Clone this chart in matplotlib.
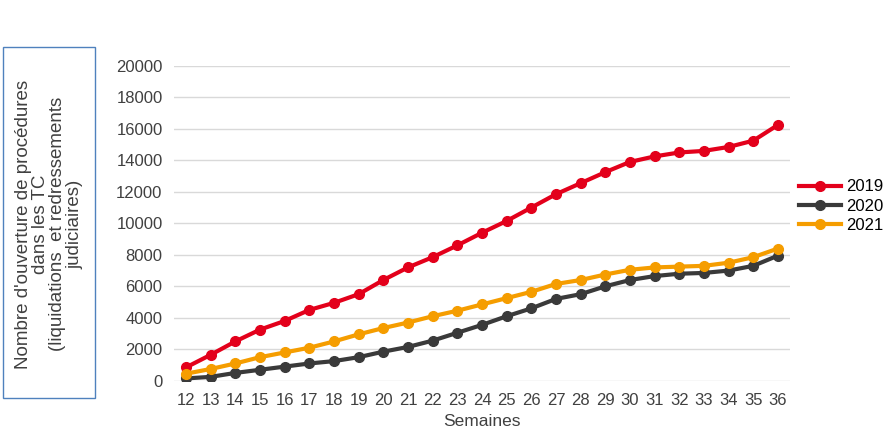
import matplotlib.pyplot as plt
from matplotlib.patches import Rectangle

weeks = list(range(12, 37))
y2019 = [850, 1650, 2500, 3250, 3800, 4500, 4950, 5500, 6400, 7200, 7850, 8600, 9400,
         10150, 11000, 11850, 12550, 13250, 13900, 14250, 14500, 14600, 14850, 15250, 16250]
y2020 = [150, 250, 500, 700, 900, 1100, 1250, 1500, 1850, 2150, 2550, 3050, 3550,
         4100, 4600, 5200, 5500, 6000, 6400, 6650, 6800, 6850, 7000, 7300, 7950]
y2021 = [450, 750, 1100, 1500, 1800, 2100, 2500, 2950, 3350, 3700, 4100, 4450, 4850,
         5250, 5650, 6150, 6400, 6750, 7050, 7200, 7250, 7300, 7500, 7850, 8400]

plt.rcParams['font.family'] = ['Liberation Sans', 'DejaVu Sans']

fig = plt.figure(figsize=(8.86, 4.48), dpi=100)
ax = fig.add_axes([0.196, 0.150, 0.696, 0.703])

ax.plot(weeks, y2019, color="#e3001b", lw=3, marker="o", ms=7, label="2019")
ax.plot(weeks, y2020, color="#3a3a3a", lw=3, marker="o", ms=7, label="2020")
ax.plot(weeks, y2021, color="#f59d00", lw=3, marker="o", ms=7, label="2021")

ax.set_xlim(11.5, 36.5)
ax.set_ylim(0, 20000)
ax.set_xticks(weeks)
ax.set_yticks(range(0, 20001, 2000))
ax.tick_params(length=0, labelsize=12, colors="#404040")
ax.tick_params(axis="x", pad=9)
ax.tick_params(axis="y", pad=8)
ax.grid(axis="y", color="#d9d9d9", lw=1)
ax.set_axisbelow(True)
for s in ax.spines.values():
    s.set_visible(False)
ax.set_xlabel("Semaines", fontsize=12.5, color="#404040", labelpad=4)

ax.legend(loc="center left", bbox_to_anchor=(0.99, 0.555), frameon=False,
          fontsize=12, handlelength=2.5, handletextpad=0.3, labelspacing=0.25)

fig.patches.append(Rectangle((3 / 886, 1 - 398 / 448), 92 / 886, 351 / 448,
                             transform=fig.transFigure, fill=False,
                             edgecolor="#4f81bd", lw=1))
fig.text(49 / 886, 0.5, "Nombre d'ouverture de procédures\ndans les TC\n(liquidations  et redressements\njudiciaires)",
         rotation=90, ha="center", va="center", fontsize=13.5, color="#404040",
         linespacing=1.0)

fig.savefig("out.png")
